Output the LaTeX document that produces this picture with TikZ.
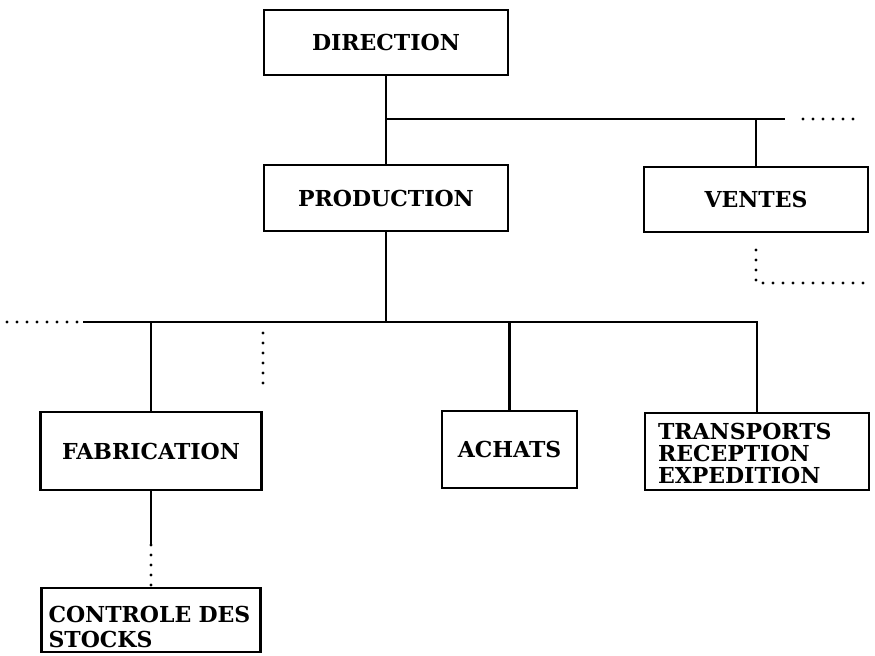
\documentclass[tikz,border=0pt]{standalone}
\usepackage{fontspec}
\setmainfont{DejaVu Serif}
\begin{document}
\begin{tikzpicture}[x=0.5pt, y=-0.5pt, line width=1.3pt]
    \tikzstyle{unit}=[draw, shape=rectangle, inner sep=0pt, font=\bfseries\fontsize{11}{11}\selectfont]
    \tikzstyle{dots}=[line width=1.6pt, line cap=round, dash pattern=on 0pt off 5pt]
    \useasboundingbox (0,0) rectangle (875,655);

    % draw units
    \node [unit, minimum width=122pt, minimum height=32.5pt] (direction) at (386,42.5) {DIRECTION};
    \node [unit, minimum width=122pt, minimum height=33pt] (production) at (386,198) {PRODUCTION};
    \node [unit, minimum width=112pt, minimum height=32.5pt] (ventes) at (756,199.5) {VENTES};

    \node [unit, minimum width=110.5pt, minimum height=39pt] (fabrication) at (151,451) {FABRICATION};
    \node [unit, minimum width=67.5pt, minimum height=38.5pt] (achats) at (509.5,449.5) {ACHATS};
    \node [unit, minimum width=112pt, minimum height=38.5pt, inner xsep=6.5pt, text width=99pt, align=left] (transports) at (757,451.5) {\rule{0pt}{10pt}TRANSPORTS\\RECEPTION\\EXPEDITION};
    \node [unit, minimum width=109.5pt, minimum height=32pt, inner xsep=3.5pt, text width=102.5pt, align=left,
           font=\bfseries\fontsize{11}{12.5}\selectfont] (controle) at (151,620) {\rule{0pt}{15pt}CONTROLE DES\\STOCKS};

    % draw joints
    \coordinate (top-bar) at (386,119);
    \coordinate (top-end) at (785,119);
    \coordinate (top-dots) at (803,119);
    \coordinate (top-far) at (862,119);
    \coordinate (ventes-dots) at (756,250);
    \coordinate (ventes-far) at (870,283);
    \coordinate (low-bar) at (386,322);
    \coordinate (low-start) at (83,322);
    \coordinate (low-dots) at (7,322);
    \coordinate (side-dots) at (263,333);
    \coordinate (side-end) at (263,385);
    \coordinate (fab-end) at (151,545);

    % draw lines
    \draw (direction) -- (production);
    \draw (top-bar) -- (top-end);
    \draw (top-bar -| ventes.north) -- (ventes.north);
    \draw (production) -- (low-bar);
    \draw (low-start) -- (low-bar -| transports.north) -- (transports.north);
    \foreach \n in {fabrication, achats}
    \draw (low-bar -| \n.north) -- (\n.north);
    \draw (fabrication) -- (fab-end);

    % draw dots
    \draw [dots] (top-dots) -- (top-far);
    \draw [dots] (ventes-dots) |- (ventes-far);
    \draw [dots] (low-dots) -- (low-start);
    \draw [dots] (side-dots) -- (side-end);
    \draw [dots] (fab-end) -- (controle);
\end{tikzpicture}
\end{document}
